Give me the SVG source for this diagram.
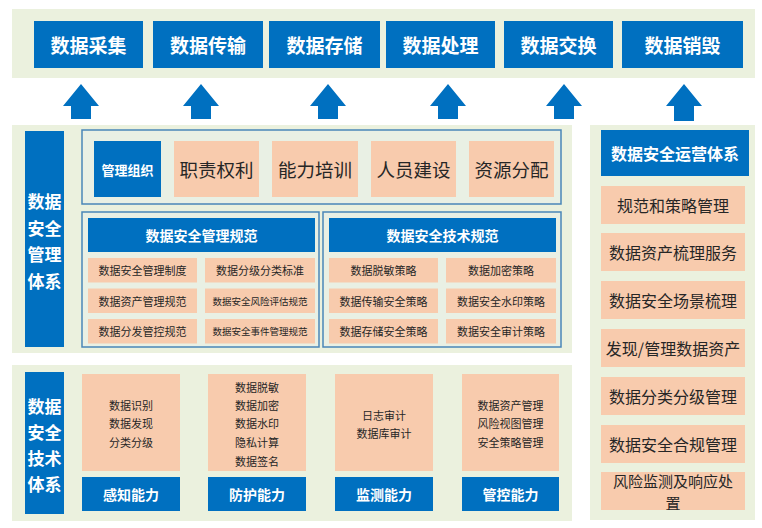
<svg xmlns="http://www.w3.org/2000/svg" width="762" height="528" viewBox="0 0 762 528">
<style>
text{font-family:"Noto Sans CJK SC","Liberation Sans",sans-serif;dominant-baseline:central;text-anchor:middle}
.band{fill:#ebf1de}
.blue{fill:#0070c0}
.org{fill:#f8cbad}
.frame{fill:#e9f0e4;stroke:#4a86b8;stroke-width:1.5}
.tb{fill:#fff;font-weight:bold}
.t{fill:#262626}
</style>
<rect width="762" height="528" fill="#fff"/>
<rect class="band" x="12" y="9" width="743" height="69"/>
<rect class="band" x="12" y="125" width="560" height="228"/>
<rect class="band" x="12" y="365" width="560" height="156"/>
<rect class="band" x="590" y="125" width="165" height="395"/>

<g id="stage-collect"><rect class="blue" x="34" y="21" width="109" height="47"/><text class="tb" x="88.5" y="44.5" font-size="19">数据采集</text></g>
<g id="stage-transfer"><rect class="blue" x="153" y="21" width="110" height="47"/><text class="tb" x="208" y="44.5" font-size="19">数据传输</text></g>
<g id="stage-store"><rect class="blue" x="269" y="21" width="111" height="47"/><text class="tb" x="324.5" y="44.5" font-size="19">数据存储</text></g>
<g id="stage-process"><rect class="blue" x="386" y="21" width="109" height="47"/><text class="tb" x="440.5" y="44.5" font-size="19">数据处理</text></g>
<g id="stage-exchange"><rect class="blue" x="504" y="21" width="109" height="47"/><text class="tb" x="558.5" y="44.5" font-size="19">数据交换</text></g>
<g id="stage-destroy"><rect class="blue" x="622" y="21" width="121" height="47"/><text class="tb" x="682.5" y="44.5" font-size="19">数据销毁</text></g>

<g id="connectors" class="blue">
<polygon points="81,84 99,106 91,106 91,119 71,119 71,106 63,106"/>
<polygon points="201,84 219,106 211,106 211,119 191,119 191,106 183,106"/>
<polygon points="328,84 346,106 338,106 338,119 318,119 318,106 310,106"/>
<polygon points="448,84 466,106 458,106 458,119 438,119 438,106 430,106"/>
<polygon points="564,84 582,106 574,106 574,119 554,119 554,106 546,106"/>
<polygon points="684,84 702,106 694,106 694,121 674,121 674,106 666,106"/>
</g>

<g id="mgmt-system">
<rect class="blue" x="25" y="131" width="39" height="216"/>
<text class="tb" x="44.5" y="200" font-size="17">数据</text>
<text class="tb" x="44.5" y="227" font-size="17">安全</text>
<text class="tb" x="44.5" y="253" font-size="17">管理</text>
<text class="tb" x="44.5" y="280" font-size="17">体系</text>
</g>

<g id="mgmt-org">
<rect class="frame" x="82" y="130" width="479" height="74"/>
<rect class="blue" x="94" y="141" width="67" height="56"/><text class="tb" x="127.5" y="169" font-size="13">管理组织</text>
<rect class="org" x="174" y="141" width="85" height="56"/><text class="t" x="216.5" y="169" font-size="18.5">职责权利</text>
<rect class="org" x="272" y="141" width="86" height="56"/><text class="t" x="315" y="169" font-size="18.5">能力培训</text>
<rect class="org" x="371" y="141" width="85" height="56"/><text class="t" x="413.5" y="169" font-size="18.5">人员建设</text>
<rect class="org" x="469" y="141" width="85" height="56"/><text class="t" x="511.5" y="169" font-size="18.5">资源分配</text>
</g>

<g id="mgmt-spec">
<rect class="frame" x="82" y="212" width="237" height="135"/>
<rect class="blue" x="88" y="218" width="227" height="34"/><text class="tb" x="201.5" y="235" font-size="14">数据安全管理规范</text>
<rect class="org" x="88" y="258" width="109" height="24.5"/><text class="t" x="142.5" y="270.3" font-size="11">数据安全管理制度</text>
<rect class="org" x="205" y="258" width="110" height="24.5"/><text class="t" x="260" y="270.3" font-size="11">数据分级分类标准</text>
<rect class="org" x="88" y="288.5" width="109" height="24.5"/><text class="t" x="142.5" y="300.8" font-size="11">数据资产管理规范</text>
<rect class="org" x="205" y="288.5" width="110" height="24.5"/><text class="t" x="260" y="300.8" font-size="9.5">数据安全风险评估规范</text>
<rect class="org" x="88" y="319" width="109" height="24.5"/><text class="t" x="142.5" y="331.3" font-size="11">数据分发管控规范</text>
<rect class="org" x="205" y="319" width="110" height="24.5"/><text class="t" x="260" y="331.3" font-size="9.5">数据安全事件管理规范</text>
</g>

<g id="tech-spec">
<rect class="frame" x="323" y="212" width="238" height="135"/>
<rect class="blue" x="329" y="218" width="227" height="34"/><text class="tb" x="442.5" y="235" font-size="14">数据安全技术规范</text>
<rect class="org" x="329" y="258" width="109" height="24.5"/><text class="t" x="383.5" y="270.3" font-size="11">数据脱敏策略</text>
<rect class="org" x="446" y="258" width="110" height="24.5"/><text class="t" x="501" y="270.3" font-size="11">数据加密策略</text>
<rect class="org" x="329" y="288.5" width="109" height="24.5"/><text class="t" x="383.5" y="300.8" font-size="11">数据传输安全策略</text>
<rect class="org" x="446" y="288.5" width="110" height="24.5"/><text class="t" x="501" y="300.8" font-size="11">数据安全水印策略</text>
<rect class="org" x="329" y="319" width="109" height="24.5"/><text class="t" x="383.5" y="331.3" font-size="11">数据存储安全策略</text>
<rect class="org" x="446" y="319" width="110" height="24.5"/><text class="t" x="501" y="331.3" font-size="11">数据安全审计策略</text>
</g>

<g id="tech-system">
<rect class="blue" x="25" y="372" width="39" height="142"/>
<text class="tb" x="44.5" y="405" font-size="17">数据</text>
<text class="tb" x="44.5" y="431" font-size="17">安全</text>
<text class="tb" x="44.5" y="457" font-size="17">技术</text>
<text class="tb" x="44.5" y="483" font-size="17">体系</text>
</g>

<g id="cap-perceive">
<rect class="org" x="82" y="374" width="98" height="97"/>
<text class="t" x="131" y="405" font-size="11">数据识别</text>
<text class="t" x="131" y="423" font-size="11">数据发现</text>
<text class="t" x="131" y="442" font-size="11">分类分级</text>
<rect class="blue" x="82" y="477" width="98" height="34"/><text class="tb" x="131" y="494" font-size="14">感知能力</text>
</g>
<g id="cap-protect">
<rect class="org" x="208" y="374" width="98" height="97"/>
<text class="t" x="257" y="387" font-size="11">数据脱敏</text>
<text class="t" x="257" y="405" font-size="11">数据加密</text>
<text class="t" x="257" y="423" font-size="11">数据水印</text>
<text class="t" x="257" y="442" font-size="11">隐私计算</text>
<text class="t" x="257" y="461" font-size="11">数据签名</text>
<rect class="blue" x="208" y="477" width="98" height="34"/><text class="tb" x="257" y="494" font-size="14">防护能力</text>
</g>
<g id="cap-monitor">
<rect class="org" x="335" y="374" width="98" height="97"/>
<text class="t" x="384" y="415" font-size="11">日志审计</text>
<text class="t" x="384" y="433" font-size="11">数据库审计</text>
<rect class="blue" x="335" y="477" width="98" height="34"/><text class="tb" x="384" y="494" font-size="14">监测能力</text>
</g>
<g id="cap-control">
<rect class="org" x="462" y="374" width="97" height="97"/>
<text class="t" x="510.5" y="405" font-size="11">数据资产管理</text>
<text class="t" x="510.5" y="423" font-size="11">风险视图管理</text>
<text class="t" x="510.5" y="442" font-size="11">安全策略管理</text>
<rect class="blue" x="462" y="477" width="97" height="34"/><text class="tb" x="510.5" y="494" font-size="14">管控能力</text>
</g>

<g id="ops-system">
<rect class="blue" x="601" y="130" width="148" height="46"/><text class="tb" x="675" y="153" font-size="16">数据安全运营体系</text>
<rect class="org" x="601" y="186" width="144" height="38"/><text class="t" x="673" y="205" font-size="16">规范和策略管理</text>
<rect class="org" x="601" y="233" width="144" height="38"/><text class="t" x="673" y="252" font-size="16">数据资产梳理服务</text>
<rect class="org" x="601" y="281" width="144" height="38"/><text class="t" x="673" y="300" font-size="16">数据安全场景梳理</text>
<rect class="org" x="601" y="329" width="144" height="38"/><text class="t" x="673" y="348" font-size="16">发现/管理数据资产</text>
<rect class="org" x="601" y="377" width="144" height="38"/><text class="t" x="673" y="396" font-size="16">数据分类分级管理</text>
<rect class="org" x="601" y="425" width="144" height="38"/><text class="t" x="673" y="444" font-size="16">数据安全合规管理</text>
<rect class="org" x="601" y="472" width="144" height="38"/><text class="t" font-size="15"><tspan x="673" y="480">风险监测及响应处</tspan><tspan x="673" y="502">置</tspan></text>
</g>
</svg>
